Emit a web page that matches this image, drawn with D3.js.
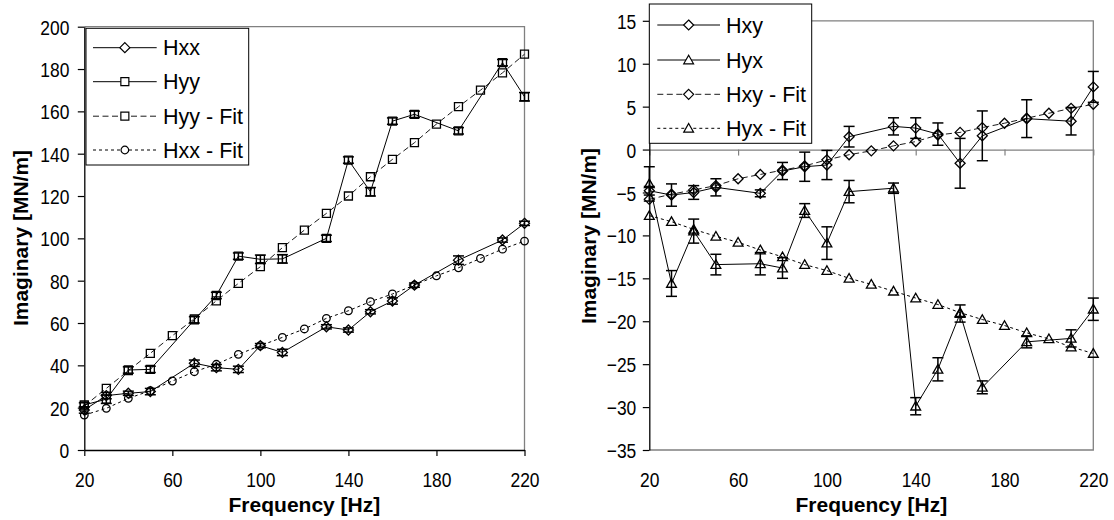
<!DOCTYPE html>
<html><head><meta charset="utf-8">
<script src="https://cdn.jsdelivr.net/npm/d3@7"></script>
<style>body{margin:0;background:#fff}svg{display:block}</style>
</head><body>
<svg id="c" width="1114" height="520"></svg>
<script>
// ---------- data ----------
const freqData = [20,30,40,50,70,80,90,100,110,130,140,150,160,170,190,210,220];
const freqFit = [20,30,40,50,60,70,80,90,100,110,120,130,140,150,160,170,180,190,200,210,220];

const hxx = [18.9,25.7,26.8,27.6,41,38.9,38.1,49.3,46.1,58.2,56.7,65.3,70.4,77.9,89.7,99.2,107.1];
const hxxErr = [1.5,1.5,1,1.5,1.5,1.5,1.5,1,1.5,1,1,1,1.5,1,2,1,1];
const hyy = [21.3,24,37.8,38.1,61.5,73,91.6,90.1,90.3,100,137,122,155.4,158.6,150.8,183,166.9];
const hyyErr = [1,2,1.5,1.5,1.5,1.5,1.5,2,2,1.5,1.5,2,1.5,1.5,1.5,1.5,2];
const hyyFit = [20.8,29.1,37.5,45.7,54,62,70.5,78.7,86.6,95.6,103.9,111.8,120,129.1,137.3,145.2,154,162.2,170,178.2,187];
const hxxFit = [16.5,19.7,24.4,28,32.6,37,40.5,45.2,49.3,53.2,57.2,62.2,65.8,70.1,73.7,77.9,82.3,86.1,90.5,94.9,98.7];

const hxy = [-4.8,-5.3,-5.0,-4.4,-5.1,-2.5,-2.0,-1.8,1.5,2.7,2.5,1.8,-1.6,1.6,3.6,3.3,7.3];
const hxyErr = [0.5,1.3,0.8,1.0,0.4,1.0,1.7,1.7,1.2,1.0,1.2,1.3,2.9,2.9,2.2,1.6,1.8];
const hyx = [-4.0,-15.6,-9.5,-13.4,-13.3,-13.8,-7.1,-10.9,-4.9,-4.5,-29.9,-25.6,-19.1,-27.7,-22.4,-22.0,-18.6];
const hyxErr = [2.0,1.5,1.4,1.2,1.3,1.2,0.8,1.9,1.3,0.6,1.0,1.35,1.0,0.75,0.7,1.0,1.3];
const hxyFit = [-5.8,-5.2,-4.7,-4.2,-3.4,-2.9,-2.4,-1.9,-1.2,-0.6,-0.15,0.43,0.93,1.7,2.0,2.56,3.07,3.65,4.23,4.8,5.27];
const hyxFit = [-7.7,-8.4,-9.3,-10.1,-10.8,-11.7,-12.5,-13.4,-14.1,-15.0,-15.7,-16.5,-17.3,-18.05,-19.0,-19.8,-20.5,-21.35,-22.05,-23.0,-23.75];

const xTicks = [20,60,100,140,180,220];
const yTicksL = [0,20,40,60,80,100,120,140,160,180,200];
const yTicksR = [-35,-30,-25,-20,-15,-10,-5,0,5,10,15];

const legendL = ["Hxx","Hyy","Hyy - Fit","Hxx - Fit"];
const legendR = ["Hxy","Hyx","Hxy - Fit","Hyx - Fit"];

// ---------- helpers ----------
const svg = d3.select("#c");
const FONT = "'Liberation Sans', Arial, sans-serif";
const SQ = 0.83;

function markerPath(type){
  if(type==="diamond") return "M0,-5L5,0L0,5L-5,0Z";
  if(type==="square") return "M-4,-4H4V4H-4Z";
  if(type==="triangle") return "M0,-4.8L4.9,3.8H-4.9Z";
  if(type==="circle") return "M3.8,0A3.8,3.8 0 1,1 -3.8,0A3.8,3.8 0 1,1 3.8,0Z";
}
const dashes = {solid:null, dash:"6,3.5", dot:"3,3"};

function drawSeries(g, x, y, fx, vals, marker, dash, err){
  const pts = fx.map((f,i)=>[f, vals[i]]);
  g.append("path").datum(pts)
    .attr("d", d3.line().x(d=>x(d[0])).y(d=>y(d[1])))
    .attr("fill","none").attr("stroke","#000")
    .attr("stroke-width", dash==="dash"?0.9:1)
    .attr("stroke-dasharray", dashes[dash]);
  if(err){
    const eg = g.append("g").attr("stroke","#000").attr("stroke-width",1.5);
    pts.forEach((p,i)=>{
      const xx = x(p[0]), y1 = y(p[1]+err[i]), y2 = y(p[1]-err[i]);
      eg.append("line").attr("x1",xx).attr("x2",xx).attr("y1",y1).attr("y2",y2);
      eg.append("line").attr("x1",xx-5.5).attr("x2",xx+5.5).attr("y1",y1).attr("y2",y1);
      eg.append("line").attr("x1",xx-5.5).attr("x2",xx+5.5).attr("y1",y2).attr("y2",y2);
    });
  }
  g.append("g").selectAll("path").data(pts).join("path")
    .attr("transform", d=>`translate(${x(d[0])},${y(d[1])})`)
    .attr("d", markerPath(marker))
    .attr("fill","none").attr("stroke","#000").attr("stroke-width",1.3);
}

function drawLegend(g, x0, y0, w, h, rows, names, lineX1, lineX2, textX){
  g.append("rect").attr("x",x0).attr("y",y0).attr("width",w).attr("height",h)
    .attr("fill","#fff").attr("stroke","#000").attr("stroke-width",1);
  rows.forEach((r,i)=>{
    const yy = r.y;
    g.append("line").attr("x1",lineX1).attr("x2",lineX2).attr("y1",yy).attr("y2",yy)
      .attr("stroke","#000").attr("stroke-width", r.dash==="dash"?0.9:1)
      .attr("stroke-dasharray", dashes[r.dash]);
    g.append("path").attr("transform",`translate(${(lineX1+lineX2)/2},${yy})`)
      .attr("d", markerPath(r.marker)).attr("fill","#fff").attr("stroke","#000").attr("stroke-width",1.2);
    g.append("text").attr("x",textX).attr("y",yy+7.5).text(names[i])
      .attr("font-family",FONT).attr("font-size",21.5).attr("fill","#000");
  });
}

function styleYAxis(ax, off){
  ax.select(".domain").attr("stroke","#000").attr("stroke-width",1.3);
  ax.selectAll(".tick line").attr("stroke","#000").attr("stroke-width",1.2);
  ax.selectAll(".tick text").attr("font-family",FONT).attr("font-size",21).attr("fill","#000")
    .attr("x", -off/SQ).attr("dy","0.36em").attr("transform",`scale(${SQ},1)`);
}
function styleXLabels(ax, yBase){
  ax.selectAll(".tick text").attr("font-family",FONT).attr("font-size",21).attr("fill","#000")
    .attr("y", yBase).attr("dy",0).attr("transform",`scale(${SQ},1)`);
}

// ---------- LEFT CHART ----------
{
  const x = d3.scaleLinear().domain([20,220]).range([84.3,524.5]);
  const y = d3.scaleLinear().domain([0,200]).range([450,26.7]);
  const g = svg.append("g");
  g.append("path").attr("d",`M${x(20)},${y(200)}H${x(220)}V${y(0)}`)
    .attr("fill","none").attr("stroke","#808080").attr("stroke-width",1.3);

  drawSeries(g,x,y,freqFit,hyyFit,"square","dash",null);
  drawSeries(g,x,y,freqFit,hxxFit,"circle","dot",null);
  drawSeries(g,x,y,freqData,hyy,"square","solid",hyyErr);
  drawSeries(g,x,y,freqData,hxx,"diamond","solid",hxxErr);

  const ya = g.append("g").attr("transform",`translate(${x(20)},0)`)
    .call(d3.axisLeft(y).tickValues(yTicksL).tickSize(6.5).tickSizeOuter(0));
  styleYAxis(ya, 15);
  const xa = g.append("g").attr("transform",`translate(0,${y(0)})`)
    .call(d3.axisBottom(x).tickValues(xTicks).tickSize(6).tickSizeOuter(0));
  xa.select(".domain").attr("stroke","#000").attr("stroke-width",1.3);
  xa.selectAll(".tick line").attr("stroke","#000").attr("stroke-width",1.2);
  styleXLabels(xa, 37.5);

  g.append("text").attr("x",(x(20)+x(220))/2).attr("y",512).attr("text-anchor","middle")
    .attr("font-family",FONT).attr("font-weight","bold").attr("font-size",21).text("Frequency [Hz]");
  g.append("text").attr("transform",`translate(28,238) rotate(-90)`).attr("text-anchor","middle")
    .attr("font-family",FONT).attr("font-weight","bold").attr("font-size",21).text("Imaginary [MN/m]");

  drawLegend(g, 86, 28.3, 162.7, 136.7, [
    {y:47.7, marker:"diamond", dash:"solid"},
    {y:81.7, marker:"square", dash:"solid"},
    {y:116.2, marker:"square", dash:"dash"},
    {y:150, marker:"circle", dash:"dot"}
  ], legendL, 93, 156.7, 163);
}

// ---------- RIGHT CHART ----------
{
  const x = d3.scaleLinear().domain([20,220]).range([649.3,1093.3]);
  const y = d3.scaleLinear().domain([-35,15]).range([450,20.8]);
  const g = svg.append("g");
  g.append("path").attr("d",`M${x(20)},${y(15)}H${x(220)}V${y(-35)}H${x(20)}`)
    .attr("fill","none").attr("stroke","#808080").attr("stroke-width",1.3);
  const za = g.append("g").attr("transform",`translate(0,${y(0)})`)
    .call(d3.axisBottom(x).tickValues(xTicks).tickSize(6).tickSizeOuter(0).tickFormat(""));
  za.select(".domain").attr("stroke","#808080").attr("stroke-width",1.3);
  za.selectAll(".tick line").attr("stroke","#808080").attr("stroke-width",1.2);

  drawSeries(g,x,y,freqFit,hxyFit,"diamond","dash",null);
  drawSeries(g,x,y,freqFit,hyxFit,"triangle","dot",null);
  drawSeries(g,x,y,freqData,hyx,"triangle","solid",hyxErr);
  drawSeries(g,x,y,freqData,hxy,"diamond","solid",hxyErr);

  const ya = g.append("g").attr("transform",`translate(${x(20)},0)`)
    .call(d3.axisLeft(y).tickValues(yTicksR).tickSize(6.5).tickSizeOuter(0));
  styleYAxis(ya, 13);
  const xa = g.append("g").attr("transform",`translate(0,${y(-35)})`)
    .call(d3.axisBottom(x).tickValues(xTicks).tickSize(0).tickSizeOuter(0));
  xa.select(".domain").remove();
  styleXLabels(xa, 37.5);

  g.append("text").attr("x",(x(20)+x(220))/2).attr("y",512).attr("text-anchor","middle")
    .attr("font-family",FONT).attr("font-weight","bold").attr("font-size",21).text("Frequency [Hz]");
  g.append("text").attr("transform",`translate(596,236) rotate(-90)`).attr("text-anchor","middle")
    .attr("font-family",FONT).attr("font-weight","bold").attr("font-size",21).text("Imaginary [MN/m]");

  drawLegend(g, 649.3, 4, 162.4, 139.3, [
    {y:25, marker:"diamond", dash:"solid"},
    {y:60, marker:"triangle", dash:"solid"},
    {y:94.3, marker:"diamond", dash:"dash"},
    {y:128.3, marker:"triangle", dash:"dot"}
  ], legendR, 657.3, 720, 726);
}
</script>
</body></html>
